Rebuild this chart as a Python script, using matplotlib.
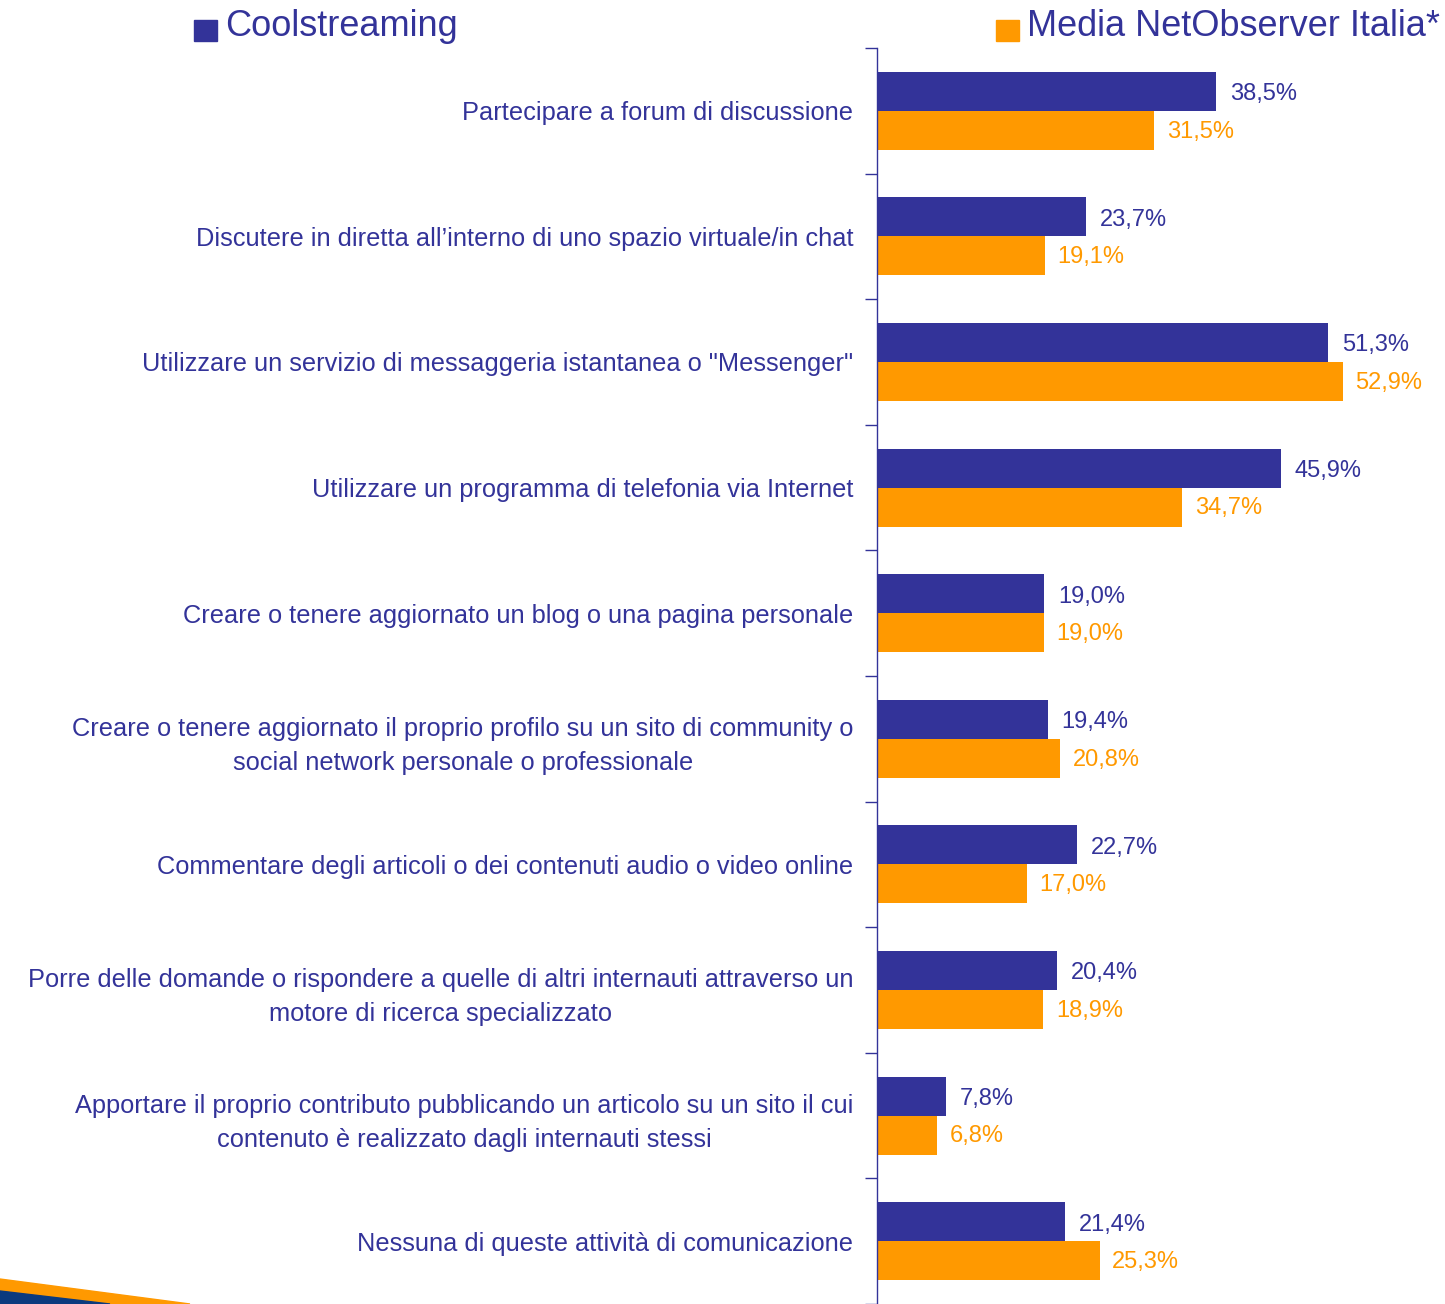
import matplotlib
matplotlib.use("Agg")
import matplotlib.pyplot as plt
import numpy as np
from matplotlib.patches import Polygon, Rectangle

plt.rcParams['font.family'] = ['Liberation Sans', 'DejaVu Sans']

categories = [
    "Partecipare a forum di discussione",
    "Discutere in diretta all\u2019interno di uno spazio virtuale/in chat",
    "Utilizzare un servizio di messaggeria istantanea o \"Messenger\"",
    "Utilizzare un programma di telefonia via Internet",
    "Creare o tenere aggiornato un blog o una pagina personale",
    "Creare o tenere aggiornato il proprio profilo su un sito di community o\nsocial network personale o professionale",
    "Commentare degli articoli o dei contenuti audio o video online",
    "Porre delle domande o rispondere a quelle di altri internauti attraverso un\nmotore di ricerca specializzato",
    "Apportare il proprio contributo pubblicando un articolo su un sito il cui\ncontenuto \u00e8 realizzato dagli internauti stessi",
    "Nessuna di queste attivit\u00e0 di comunicazione",
]
coolstreaming = [38.5, 23.7, 51.3, 45.9, 19.0, 19.4, 22.7, 20.4, 7.8, 21.4]
media_italia = [31.5, 19.1, 52.9, 34.7, 19.0, 20.8, 17.0, 18.9, 6.8, 25.3]
series_names = ["Coolstreaming", "Media NetObserver Italia*"]

BLUE = "#333399"
ORANGE = "#FF9900"
NAVY = "#0B3A7E"

W, H = 1445, 1304
fig = plt.figure(figsize=(W / 100, H / 100), dpi=100)
ax = fig.add_axes([877 / W, 0.0, (W - 877) / W, 1256 / H])

y = np.arange(len(categories))
bh = 0.31
ax.barh(y - bh / 2, coolstreaming, height=bh, color=BLUE, zorder=2)
ax.barh(y + bh / 2, media_italia, height=bh, color=ORANGE, zorder=2)

def fmt(v):
    return f"{v:.1f}".replace(".", ",") + "%"

for yi, v in zip(y, coolstreaming):
    ax.annotate(fmt(v), (v, yi - bh / 2), xytext=(10, -2), textcoords="offset points",
                va="center", ha="left", fontsize=17, color=BLUE)
for yi, v in zip(y, media_italia):
    ax.annotate(fmt(v), (v, yi + bh / 2), xytext=(9, -1), textcoords="offset points",
                va="center", ha="left", fontsize=17, color=ORANGE)

ax.set_xlim(0, (W - 877) / 8.8)
ax.set_ylim(len(categories) - 0.5, -0.5)
ax.set_yticks(y)
ax.set_yticklabels(categories, fontsize=18.3, color=BLUE, multialignment="center",
                   linespacing=1.5)
ax.tick_params(axis="y", which="major", length=0, pad=17)
for lbl in ax.get_yticklabels():
    lbl.set_y(lbl.get_position()[1])
ax.set_yticks(np.arange(-0.5, len(categories) + 0.5, 1.0), minor=True)
ax.tick_params(axis="y", which="minor", length=9, width=1, color=BLUE, direction="out")
ax.set_xticks([])
for s in ["top", "right", "bottom"]:
    ax.spines[s].set_visible(False)
ax.spines["left"].set_color(BLUE)
ax.spines["left"].set_linewidth(1)
ax.patch.set_alpha(0)

# legend header
fig.patches.append(Rectangle((194 / W, 1 - 41 / H), 23 / W, 21 / H, transform=fig.transFigure,
                             color=BLUE))
fig.text(225 / W, 1 - 26 / H, series_names[0], fontsize=26, color=BLUE, va="center", ha="left")
fig.patches.append(Rectangle((996 / W, 1 - 41 / H), 23 / W, 21 / H, transform=fig.transFigure,
                             color=ORANGE))
fig.text(1027 / W, 1 - 26 / H, series_names[1], fontsize=26, color=BLUE, va="center", ha="left")

# bottom-left decoration
fig.patches.append(Polygon([(0, 1 - 1279 / H), (190 / W, 0), (0, 0)], closed=True,
                           transform=fig.transFigure, color=ORANGE))
fig.patches.append(Polygon([(0, 1 - 1291 / H), (110 / W, 0), (0, 0)], closed=True,
                           transform=fig.transFigure, color=NAVY))

fig.savefig("out.png", dpi=100)
